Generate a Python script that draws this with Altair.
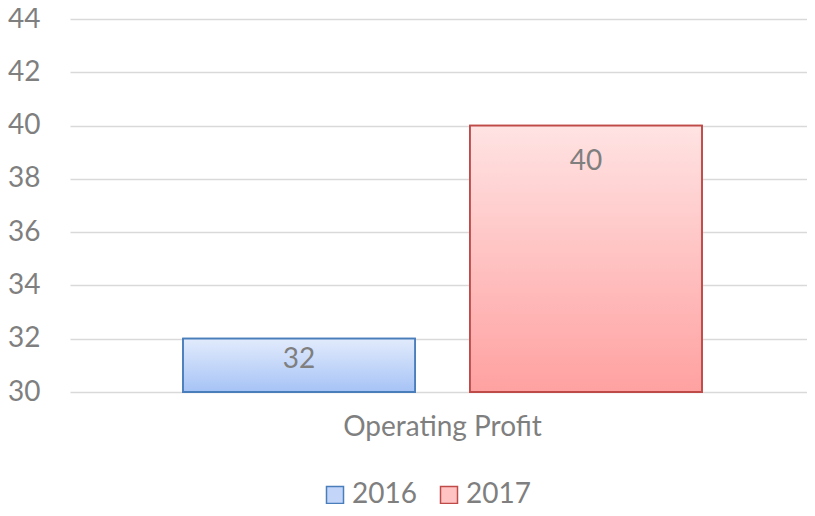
import altair as alt
import pandas as pd

categories = ["Operating Profit", "Operating Profit"]
years = ["2016", "2017"]
values = [32, 40]
y_ticks = [30, 32, 34, 36, 38, 40, 42, 44]
baseline = 30

df = pd.DataFrame({"category": categories, "year": years, "value": values, "base": [baseline] * len(values)})

FONT = "Lato"
GREY = "#7F7F7F"
FS = 28

solid_fills = ["#C3D6F9", "#FFC3C3"]
stroke_cols = ["#4A7EBB", "#BE4B48"]


def grad(top, bottom):
    return {"gradient": "linear", "x1": 0, "y1": 0, "x2": 0, "y2": 1,
            "stops": [{"offset": 0, "color": top}, {"offset": 1, "color": bottom}]}


grad16 = grad("#E2EBFC", "#A6C3F6")
grad17 = grad("#FFE3E3", "#FFA1A1")

x = alt.X("category:N",
          axis=alt.Axis(title=None, labelAngle=0, domain=False, ticks=False, grid=False, labelLimit=0,
                        labelFontSize=FS, labelColor=GREY, labelFont=FONT, labelPadding=21),
          scale=alt.Scale(paddingInner=0, paddingOuter=0))
xo = alt.XOffset("year:N", scale=alt.Scale(domain=years, paddingInner=0.1916, paddingOuter=0.394))
y = alt.Y("value:Q",
          scale=alt.Scale(domain=[30, 44], zero=False, nice=False),
          axis=alt.Axis(values=y_ticks, title=None, domain=False, ticks=False, labelPadding=30,
                        labelFontSize=FS, labelColor=GREY, labelFont=FONT,
                        gridColor="#D9D9D9", gridWidth=1.5))

legend = alt.Legend(title=None, orient="none", legendX=251, legendY=462, direction="horizontal",
                    symbolType="square", symbolSize=289, symbolStrokeWidth=1.5,
                    labelFontSize=FS, labelColor=GREY, labelFont=FONT,
                    columnPadding=18, labelOffset=3)

base = alt.Chart(df)

bars_solid = base.mark_bar(strokeWidth=1.8).encode(
    x=x, xOffset=xo, y=y, y2="base:Q",
    color=alt.Color("year:N", scale=alt.Scale(domain=years, range=solid_fills), legend=legend),
    stroke=alt.Stroke("year:N", scale=alt.Scale(domain=years, range=stroke_cols), legend=legend),
)

bars_grad = base.mark_bar(strokeWidth=1.8).encode(
    x=x, xOffset=xo, y=y, y2="base:Q",
    fill=alt.condition(alt.datum.year == "2016", alt.value(grad16), alt.value(grad17)),
    stroke=alt.condition(alt.datum.year == "2016", alt.value(stroke_cols[0]), alt.value(stroke_cols[1])),
)

text16 = base.transform_filter(alt.datum.year == "2016").mark_text(
    baseline="middle", dy=21, fontSize=FS, font=FONT, color=GREY
).encode(x=x, xOffset=xo, y=y, text="value:Q")

text17 = base.transform_filter(alt.datum.year == "2017").mark_text(
    baseline="middle", dy=36, fontSize=FS, font=FONT, color=GREY
).encode(x=x, xOffset=xo, y=y, text="value:Q")

chart = alt.layer(bars_solid, bars_grad, text16, text17).properties(
    width=745, height=373,
    autosize=alt.AutoSizeParams(type="none"),
    padding={"left": 62, "top": 11, "right": -8, "bottom": 112},
).configure_view(stroke=None)

chart.save("out.html", embed_options={"renderer": "svg", "actions": False})
